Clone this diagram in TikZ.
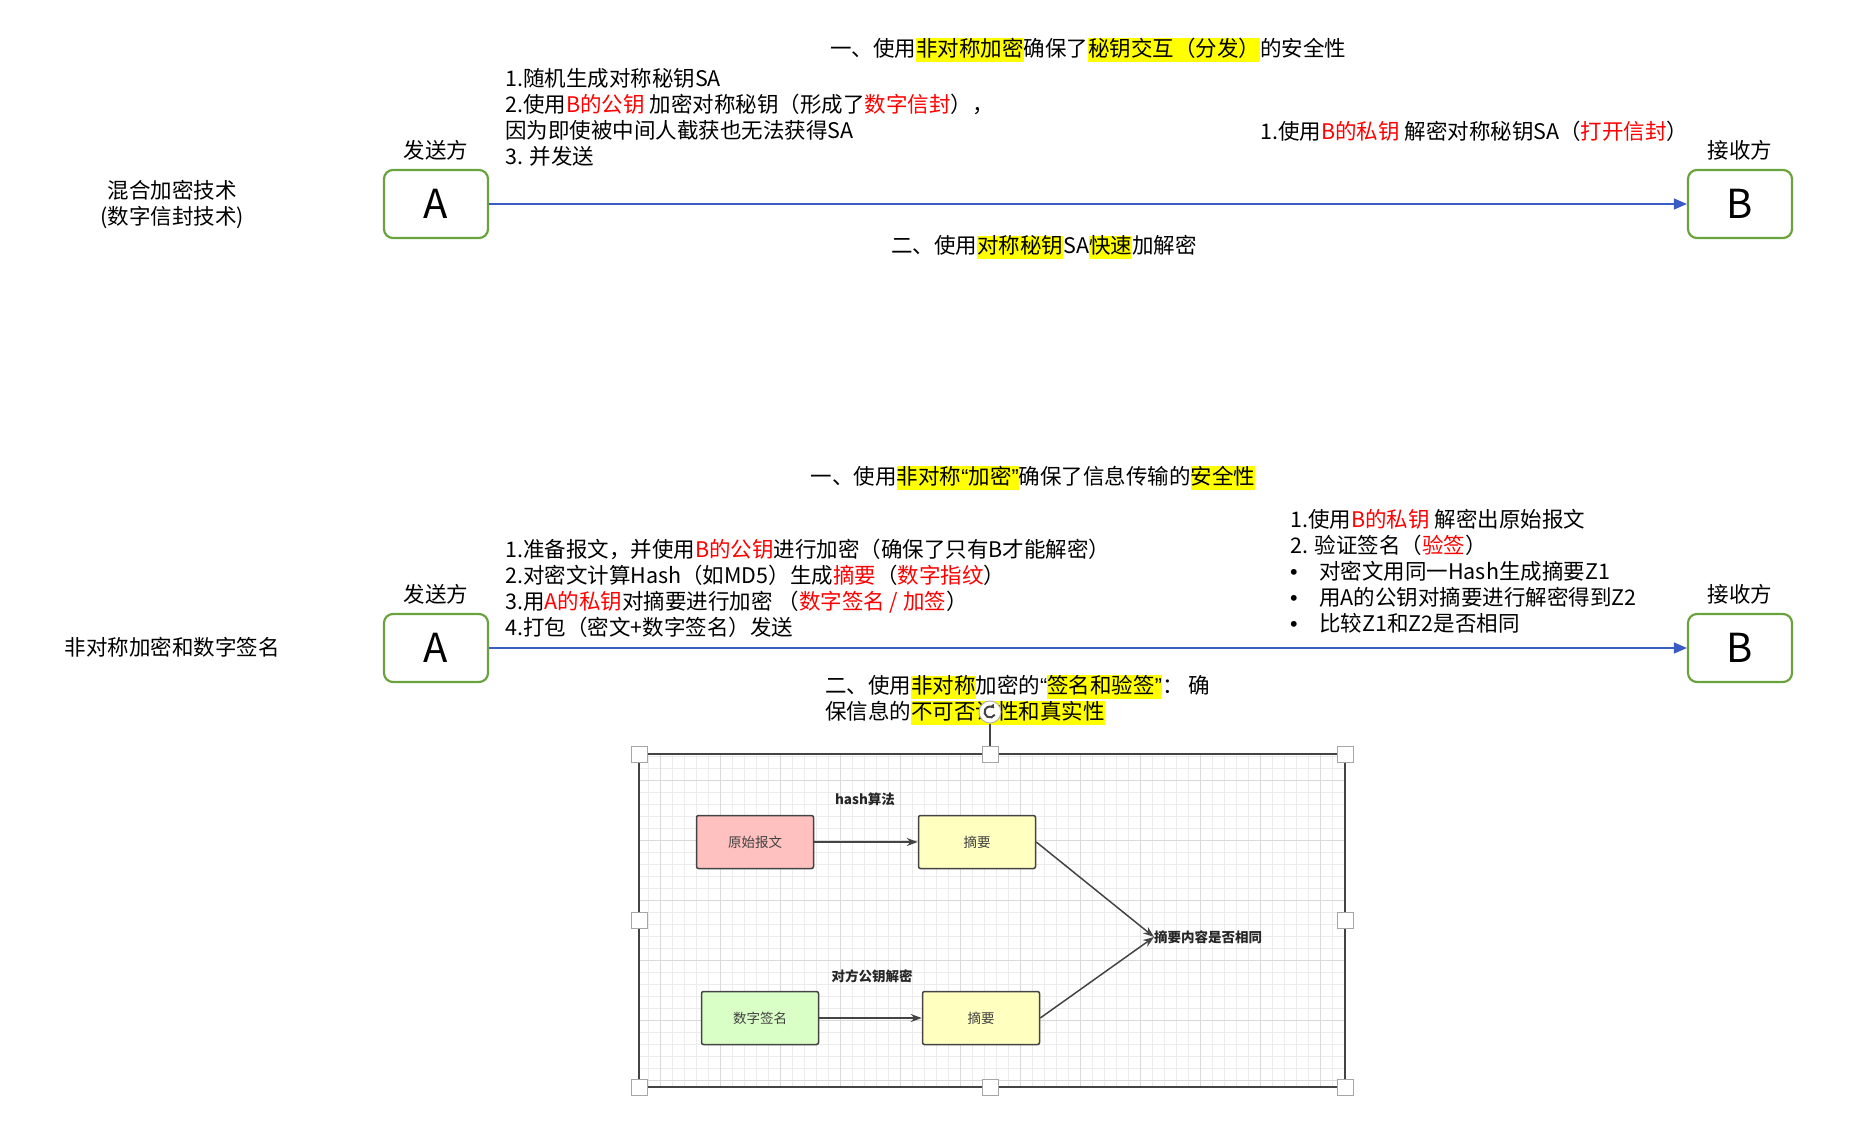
\documentclass[tikz,border=0pt]{standalone}
\usepackage{fontspec}
\setmainfont{Noto Sans CJK SC}
\newfontfamily\quotefont{Liberation Sans}
\usetikzlibrary{arrows.meta, positioning}

\definecolor{boxgreen}{RGB}{106,163,62}
\definecolor{linkblue}{RGB}{59,92,196}
\definecolor{marker}{RGB}{255,255,0}
\definecolor{keyred}{RGB}{255,0,0}
\definecolor{framegray}{RGB}{68,68,68}
\definecolor{gridminor}{RGB}{236,236,236}
\definecolor{gridmajor}{RGB}{218,218,218}
\definecolor{msgpink}{RGB}{255,192,192}
\definecolor{digestyellow}{RGB}{255,255,192}
\definecolor{signgreen}{RGB}{218,255,198}

\newcommand{\hlbox}[1]{{\setlength{\fboxsep}{0pt}\colorbox{marker}{\vrule height 18pt depth 5pt width 0pt #1}}}
\newcommand{\kw}[1]{\textcolor{keyred}{#1}}
\newcommand{\qopen}{{\quotefont “}}
\newcommand{\qclose}{{\quotefont ”}}
\newcommand{\bulletline}[1]{\makebox[29pt][l]{{\quotefont •}}#1}

\begin{document}
\begin{tikzpicture}[
    x=1pt, y=-1pt,
    every node/.style={font=\fontsize{21.5}{26}\selectfont, inner sep=0pt},
    party/.style={rectangle, draw=boxgreen, line width=2.2pt, rounded corners=9pt, minimum width=104pt, minimum height=68pt, font=\fontsize{40}{44}\selectfont},
    note/.style={align=left, anchor=west},
    link/.style={-{Triangle[length=13pt, width=11pt]}, draw=linkblue, line width=1.3pt},
    msgbox/.style={rectangle, draw=framegray, line width=1.5pt, rounded corners=2pt, minimum width=117pt, minimum height=53pt, font=\fontsize{13.5}{16}\selectfont, text=black!75},
    steplabel/.style={font=\bfseries\fontsize{13.5}{16}\selectfont, text=black!85},
    flow/.style={-{Stealth[length=11pt, width=8pt]}, draw=framegray, line width=1.5pt},
    handle/.style={rectangle, draw=gray!70, fill=white, line width=1pt, minimum size=16pt},
    rotator/.style={circle, draw=gray!60, fill=white, line width=1pt, minimum size=22pt}
]
\useasboundingbox (0,0) rectangle (1866,1132);

% Hybrid encryption
\node[party] (senderA) at (436,204) {A};
\node[party] (receiverB) at (1740,204) {B};
\node[above=8pt of senderA] (senderlabel) {发送方};
\node[above=8pt of receiverB] (receiverlabel) {接收方};
\node[align=center] (hybridlabel) at (172,204) {混合加密技术\\(数字信封技术)};
\node (keytitle) at (1088,50) {一、使用\hlbox{非对称加密}确保了\hlbox{秘钥交互（分发）}的安全性};
\node[note] (sendsteps) at (505,117) {1.随机生成对称秘钥SA\\2.使用\kw{B的公钥} 加密对称秘钥（形成了\kw{数字信封}），\\因为即使被中间人截获也无法获得SA\\3. 并发送};
\node[note] (recvsteps) at (1260,131) {1.使用\kw{B的私钥} 解密对称秘钥SA（\kw{打开信封}）};
\node (fasttitle) at (1044,247) {二、使用\hlbox{对称秘钥}SA\hlbox{快速}加解密};

\draw[link] (senderA) -- (receiverB);

% Asymmetric encryption and signature
\node[party] (signerA) at (436,648) {A};
\node[party] (verifierB) at (1740,648) {B};
\node[above=8pt of signerA] (signerlabel) {发送方};
\node[above=8pt of verifierB] (verifierlabel) {接收方};
\node (signlabel) at (172,647) {非对称加密和数字签名};
\node (safetitle) at (1033,478) {一、使用\hlbox{非对称\qopen 加密\qclose}确保了信息传输的\hlbox{安全性}};
\node[note] (signsteps) at (505,588) {1.准备报文，并使用\kw{B的公钥}进行加密（确保了只有B才能解密）\\2.对密文计算Hash（如MD5）生成\kw{摘要}（\kw{数字指纹}）\\3.用\kw{A的私钥}对摘要进行加密 （\kw{数字签名 / 加签}）\\4.打包（密文+数字签名）发送};
\node[note] (verifysteps) at (1290,571) {1.使用\kw{B的私钥} 解密出原始报文\\2. 验证签名（\kw{验签}）\\\bulletline{对密文用同一Hash生成摘要Z1}\\\bulletline{用A的公钥对摘要进行解密得到Z2}\\\bulletline{比较Z1和Z2是否相同}};
\node[note] (prooftitle) at (825,700) {二、使用\hlbox{非对称}加密的\qopen\hlbox{签名和验签\qclose}： 确\\保信息的\hlbox{不可否认性和真实性}};

\draw[link] (signerA) -- (verifierB);

% Embedded sketch
\draw[gridminor, line width=0.6pt, step=12pt] (639,754) grid (1345,1087);
\draw[gridmajor, line width=0.8pt, step=60pt] (639,754) grid (1345,1087);
\draw[framegray, line width=2pt] (639,754) rectangle (1345,1087);

\node[msgbox, fill=msgpink] (rawmsg) at (755,842) {原始报文};
\node[msgbox, fill=digestyellow] (digestup) at (977,842) {摘要};
\node[msgbox, fill=signgreen] (signature) at (760,1018) {数字签名};
\node[msgbox, fill=digestyellow] (digestdown) at (981,1018) {摘要};
\node[steplabel, anchor=west] (compare) at (1154,937) {摘要内容是否相同};
\node[steplabel] (hashlabel) at (865,799) {hash算法};
\node[steplabel] (decryptlabel) at (872,976) {对方公钥解密};

\draw[flow] (rawmsg) -- (digestup);
\draw[flow] (signature) -- (digestdown);
\draw[flow] (digestup.east) -- (compare.west);
\draw[flow] (digestdown.east) -- (compare.west);

% Selection handles
\foreach \hx/\hy [count=\i] in {639/754, 990/754, 1345/754, 639/920, 1345/920, 639/1087, 990/1087, 1345/1087}
    \node[handle] (grip\i) at (\hx,\hy) {};
\node[rotator] (spin) at (990,712) {};
\draw[framegray, line width=1.5pt] (spin.south) -- (grip2.north);
\draw[framegray, line width=2pt, -{Triangle[length=4pt, width=5pt]}] (spin.center) ++(-30:5.5pt) arc[start angle=-30, end angle=-320, radius=5.5pt];
\end{tikzpicture}
\end{document}
